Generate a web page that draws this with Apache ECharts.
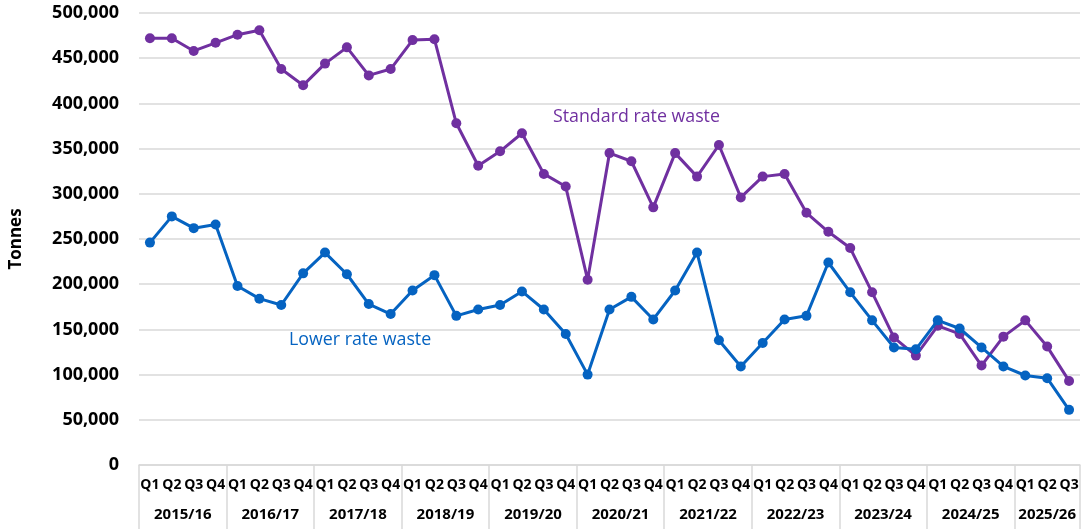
<!DOCTYPE html>
<html>
<head>
<meta charset="utf-8">
<script src="https://cdn.jsdelivr.net/npm/echarts@6/dist/echarts.min.js"></script>
<style>
html,body{margin:0;padding:0;background:#fff;}
#chart{width:1090px;height:529px;}
</style>
</head>
<body>
<div id="chart"></div>
<script>
// ---- data ----
const years = ['2015/16','2016/17','2017/18','2018/19','2019/20','2020/21','2021/22','2022/23','2023/24','2024/25','2025/26'];
const quartersPerYear = [4,4,4,4,4,4,4,4,4,4,3];
const quarterNames = ['Q1','Q2','Q3','Q4'];
const standardRate = [
  472000,472000,458000,467000,
  476000,481000,438000,420000,
  444000,462000,431000,438000,
  470000,471000,378000,331000,
  347000,367000,322000,308000,
  205000,345000,336000,285000,
  345000,319000,354000,296000,
  319000,322000,279000,258000,
  240000,191000,141000,121000,
  154000,145000,110000,142000,
  160000,131000,93000
];
const lowerRate = [
  246000,275000,262000,266000,
  198000,184000,177000,212000,
  235000,211000,178000,167000,
  193000,210000,165000,172000,
  177000,192000,172000,145000,
  100000,172000,186000,161000,
  193000,235000,138000,109000,
  135000,161000,165000,224000,
  191000,160000,130000,128000,
  160000,151000,130000,109000,
  99000,96000,61000
];
const yTicks = {min:0, max:500000, interval:50000};

// ---- build categories ----
const quarterLabels = [];
const yearOfQuarter = [];
const posInYear = [];
years.forEach((y, yi) => {
  for (let q = 0; q < quartersPerYear[yi]; q++) {
    quarterLabels.push(quarterNames[q]);
    yearOfQuarter.push(y);
    posInYear.push(q);
  }
});
const n = quarterLabels.length;
const yearStart = [];
{ let s = 0; quartersPerYear.forEach(c => { yearStart.push(s); s += c; }); }

const FONT = "'Open Sans', 'Liberation Sans', sans-serif";
const PURPLE = '#7030A0';
const BLUE = '#0563C1';
const GRID = '#d9d9d9';

const chart = echarts.init(document.getElementById('chart'), null, {renderer:'canvas'});
chart.setOption({
  animation: false,
  backgroundColor: '#fff',
  grid: {left: 139, right: 10, top: 13, bottom: 64, containLabel: false},
  xAxis: [
    {
      type: 'category',
      data: quarterLabels,
      boundaryGap: true,
      position: 'bottom',
      axisLine: {show: true, lineStyle: {color: GRID, width: 1.5}},
      axisTick: {show: false},
      axisLabel: {
        interval: 0, hideOverlap: false, margin: 13,
        color: '#000', fontFamily: FONT, fontWeight: 'bold', fontSize: 14
      },
      splitLine: {show: false}
    },
    {
      type: 'category',
      data: yearOfQuarter,
      boundaryGap: true,
      position: 'bottom',
      axisLine: {show: false},
      axisTick: {
        show: true, inside: false, length: 64, alignWithLabel: false,
        interval: function (i) { return yearStart.indexOf(i) >= 0 || i === n; },
        lineStyle: {color: GRID, width: 1.5}
      },
      axisLabel: {
        interval: function (i) { return posInYear[i] === 1; },
        hideOverlap: false,
        margin: 42,
        formatter: function (v, i) {
          const yi = years.indexOf(v);
          return quartersPerYear[yi] === 4 ? '{a|' + v + '}' : '{b|' + v + '}';
        },
        rich: {
          a: {padding: [0,0,0,22], color:'#000', fontFamily: FONT, fontWeight:'bold', fontSize: 15},
          b: {color:'#000', fontFamily: FONT, fontWeight:'bold', fontSize: 15}
        }
      },
      splitLine: {show: false}
    }
  ],
  yAxis: {
    type: 'value',
    min: yTicks.min, max: yTicks.max, interval: yTicks.interval,
    name: 'Tonnes',
    nameLocation: 'middle',
    nameGap: 114,
    nameRotate: 90,
    nameTextStyle: {color:'#000', fontFamily: FONT, fontWeight:'bold', fontSize: 17},
    axisLine: {show: false},
    axisTick: {show: false},
    axisLabel: {
      color:'#000', fontFamily: FONT, fontWeight:'bold', fontSize: 18, margin: 20,
      formatter: function (v) { return v.toLocaleString('en-GB'); }
    },
    splitLine: {show: true, lineStyle: {color: GRID, width: 1.5}}
  },
  series: [
    {
      name: 'Standard rate waste',
      type: 'line',
      data: standardRate,
      symbol: 'circle', symbolSize: 10,
      lineStyle: {color: PURPLE, width: 3},
      itemStyle: {color: PURPLE},
      z: 2
    },
    {
      name: 'Lower rate waste',
      type: 'line',
      data: lowerRate,
      symbol: 'circle', symbolSize: 10,
      lineStyle: {color: BLUE, width: 3},
      itemStyle: {color: BLUE},
      z: 3
    }
  ],
  graphic: [
    {type:'text', left: 553, top: 108, style:{text:'Standard rate waste', fill: PURPLE, font: "17.8px 'Open Sans', sans-serif"}},
    {type:'text', left: 289, top: 331, style:{text:'Lower rate waste', fill: BLUE, font: "17.8px 'Open Sans', sans-serif"}}
  ]
});
</script>
</body>
</html>
